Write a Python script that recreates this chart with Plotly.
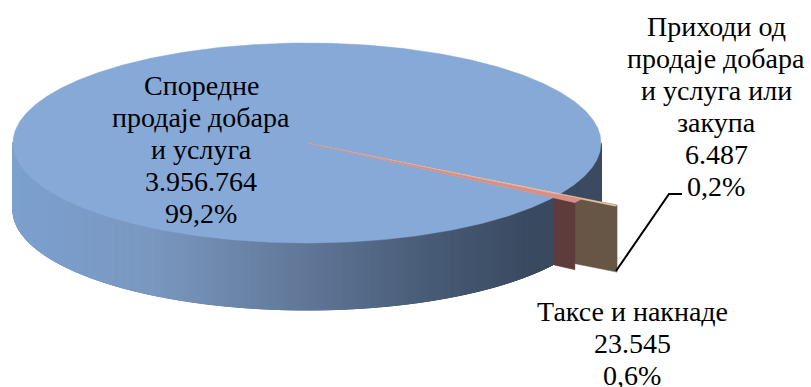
import math
import plotly.graph_objects as go

categories = [["Приходи од", "продаје добара", "и услуга или", "закупа"], ["Таксе и накнаде"], ["Споредне", "продаје добара", "и услуга"]]
values = [6487, 23545, 3956764]
value_labels = ["6.487", "23.545", "3.956.764"]
percent_labels = ["0,2%", "0,6%", "99,2%"]
top_colors = ["#e6c3a0", "#d98f86", "#86a9d7"]
face_colors = ["#675646", "#5e3c3c"]

W, H = 811, 387
CX, CY, A, B, DEPTH = 307, 143, 294, 100, 67
START = 30.5
RIM_IN = [1.054, 1.004]
RIM_OUT = [1.224, 1.089]
FONT = "Liberation Serif"
FS = 28

def pt(theta, f=1.0, dz=0):
    t = math.radians(theta)
    return CX + f * A * math.cos(t), CY + f * B * math.sin(t) + dz

def arc(t0, t1, f=1.0, n=240, dz=0):
    return [pt(t0 + (t1 - t0) * i / n, f, dz) for i in range(n + 1)]

STOPS = [(13, (124, 160, 207)), (150, (122, 152, 192)), (300, (97, 120, 152)), (430, (72, 91, 118)), (530, (58, 74, 96)), (601, (60, 76, 98))]
def wall_color(x):
    for (x0, c0), (x1, c1) in zip(STOPS, STOPS[1:]):
        if x <= x1:
            k = max(0, (x - x0) / (x1 - x0))
            return "rgb(%d,%d,%d)" % tuple(round(a + (b - a) * k) for a, b in zip(c0, c1))
    return "rgb(%d,%d,%d)" % STOPS[-1][1]

fig = go.Figure()

def poly(points, color, lw=0.8):
    fig.add_trace(go.Scatter(x=[p[0] for p in points] + [points[0][0]],
                             y=[p[1] for p in points] + [points[0][1]],
                             mode="lines", fill="toself", fillcolor=color,
                             line=dict(color=color, width=lw), hoverinfo="skip", showlegend=False))

# side wall, front half of the disc, in thin strips for the gradient
n = 360
for i in range(n):
    t0 = i * 180 / n
    t1 = (i + 1) * 180 / n + 0.5
    p0, p1 = pt(t0), pt(t1)
    poly([p0, p1, pt(t1, dz=DEPTH), pt(t0, dz=DEPTH)], wall_color((p0[0] + p1[0]) / 2), 1.0)

total = sum(values)
angles = [START]
for v in values:
    angles.append(angles[-1] + v / total * 360)

# main top face
poly([(CX, CY)] + arc(angles[2], angles[3], n=720), top_colors[2], 0.5)

# cut faces of the two small slices
face_angles = [angles[0], angles[2]]
for i in (0, 1):
    th = face_angles[i]
    poly([pt(th, RIM_IN[i]), pt(th, RIM_OUT[i]), pt(th, RIM_OUT[i], DEPTH), pt(th, RIM_IN[i], DEPTH)], face_colors[i], 0.5)

# top faces of the small slices
for i in (0, 1):
    poly([(CX, CY), pt(angles[i], RIM_OUT[i]), pt(angles[i + 1], RIM_OUT[i])], top_colors[i], 0.4)

label_pos = [(716, 26), (632, 311), (201, 85.5)]
LINE = 32
for cat, val, pct, (x, y) in zip(categories, value_labels, percent_labels, label_pos):
    for j, line in enumerate(cat + [val, pct]):
        fig.add_annotation(x=x, y=y + j * LINE, xref="x", yref="y", text=line, showarrow=False,
                           align="center", font=dict(family=FONT, size=FS, color="#000000"))

fig.add_shape(type="path", path="M 616 271 L 669 194 L 682 194", xref="x", yref="y",
              line=dict(color="#000000", width=2))

fig.update_layout(width=W, height=H, margin=dict(l=0, r=0, t=0, b=0), paper_bgcolor="white", plot_bgcolor="white",
                  xaxis=dict(range=[0, W], visible=False, fixedrange=True),
                  yaxis=dict(range=[H, 0], visible=False, fixedrange=True), showlegend=False)
fig.write_html("out.html", config=dict(displayModeBar=False),
               post_script="document.body.style.margin='0';document.documentElement.style.overflow='hidden';")
